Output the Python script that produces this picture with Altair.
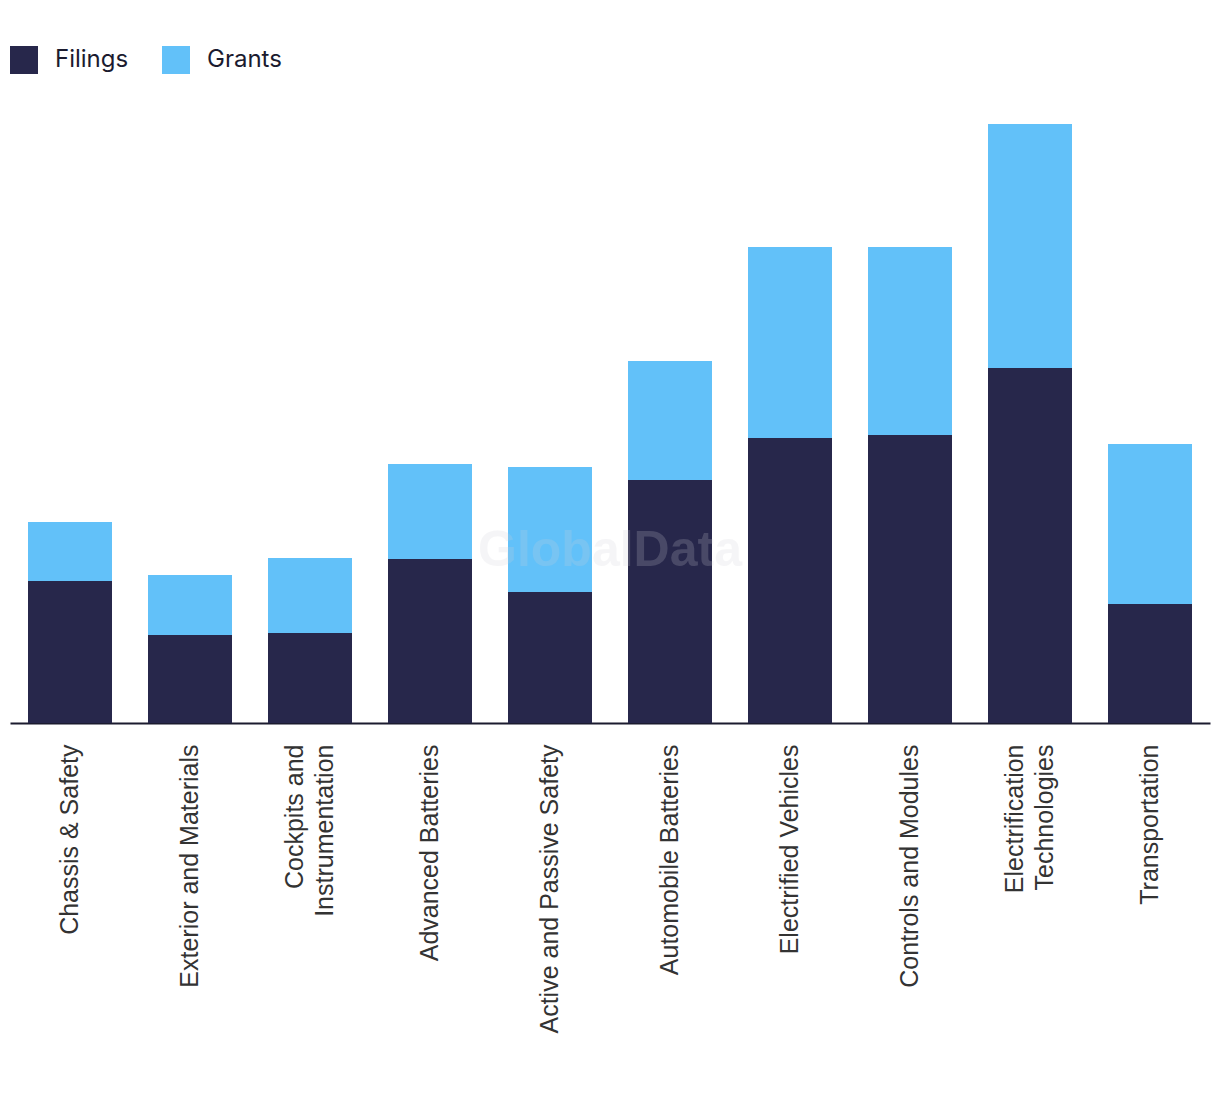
import altair as alt
import pandas as pd

categories = [
    "Chassis & Safety",
    "Exterior and Materials",
    "Cockpits and Instrumentation",
    "Advanced Batteries",
    "Active and Passive Safety",
    "Automobile Batteries",
    "Electrified Vehicles",
    "Controls and Modules",
    "Electrification Technologies",
    "Transportation",
]
filings = [142, 88, 90, 164, 131, 243, 285, 288, 355, 119]
grants = [59, 60, 75, 95, 125, 119, 191, 188, 244, 160]
series = ["Filings", "Grants"]
colors = ["#27274B", "#62C1F9"]

rows = []
for c, f, g in zip(categories, filings, grants):
    rows.append({"category": c, "series": "Filings", "value": f, "order": 0})
    rows.append({"category": c, "series": "Grants", "value": g, "order": 1})
df = pd.DataFrame(rows)

label_expr = (
    "datum.label == 'Cockpits and Instrumentation' ? ['Cockpits and', 'Instrumentation'] : "
    "datum.label == 'Electrification Technologies' ? ['Electrification', 'Technologies'] : datum.label"
)
two_line_test = (
    "datum.value == 'Cockpits and Instrumentation' || "
    "datum.value == 'Electrification Technologies'"
)

bars = alt.Chart(df).mark_bar().encode(
    x=alt.X(
        "category:N",
        sort=categories,
        title=None,
        scale=alt.Scale(paddingInner=0.3, paddingOuter=0.15),
        axis=alt.Axis(
            labelAngle=270,
            labelAlign="right",
            labelBaseline="middle",
            labelFont="Liberation Sans",
            labelFontSize=25,
            labelColor="#333333",
            labelLineHeight=30,
            labelPadding=21,
            labelLimit=1000,
            labelExpr=label_expr,
            labelOffset={"condition": {"test": two_line_test, "value": -15}, "value": 0},
            ticks=False,
            domainColor="#1B1B2F",
            domainWidth=2,
        ),
    ),
    y=alt.Y(
        "value:Q",
        stack="zero",
        scale=alt.Scale(domain=[0, 600], nice=False),
        axis=None,
    ),
    color=alt.Color(
        "series:N",
        scale=alt.Scale(domain=series, range=colors),
        legend=alt.Legend(
            title=None,
            orient="none",
            direction="horizontal",
            legendX=0,
            legendY=-77,
            symbolType="square",
            symbolSize=784,
            symbolStrokeWidth=0,
            symbolOpacity=1,
            labelFont="Inter",
            labelFontSize=24,
            labelColor="#1B1B2F",
            labelOffset=17,
            columnPadding=33,
            padding=0,
        ),
    ),
    order=alt.Order("order:Q"),
)

watermark = alt.Chart(pd.DataFrame({"t": ["GlobalData"]})).mark_text(
    font="Liberation Sans",
    fontWeight="bold",
    fontSize=50,
    color="#D0D0D8",
    opacity=0.2,
    align="center",
    baseline="middle",
).encode(text="t:N", x=alt.value(600), y=alt.value(428))

chart = (
    alt.layer(bars, watermark)
    .properties(
        width=1200,
        height=600,
        background="white",
        autosize=alt.AutoSizeParams(type="none"),
        padding={"left": 2, "top": 115, "right": 2, "bottom": 355},
    )
    .configure_view(strokeWidth=0, stroke=None)
)

chart.save("out.html", embed_options={"renderer": "svg", "actions": False})
